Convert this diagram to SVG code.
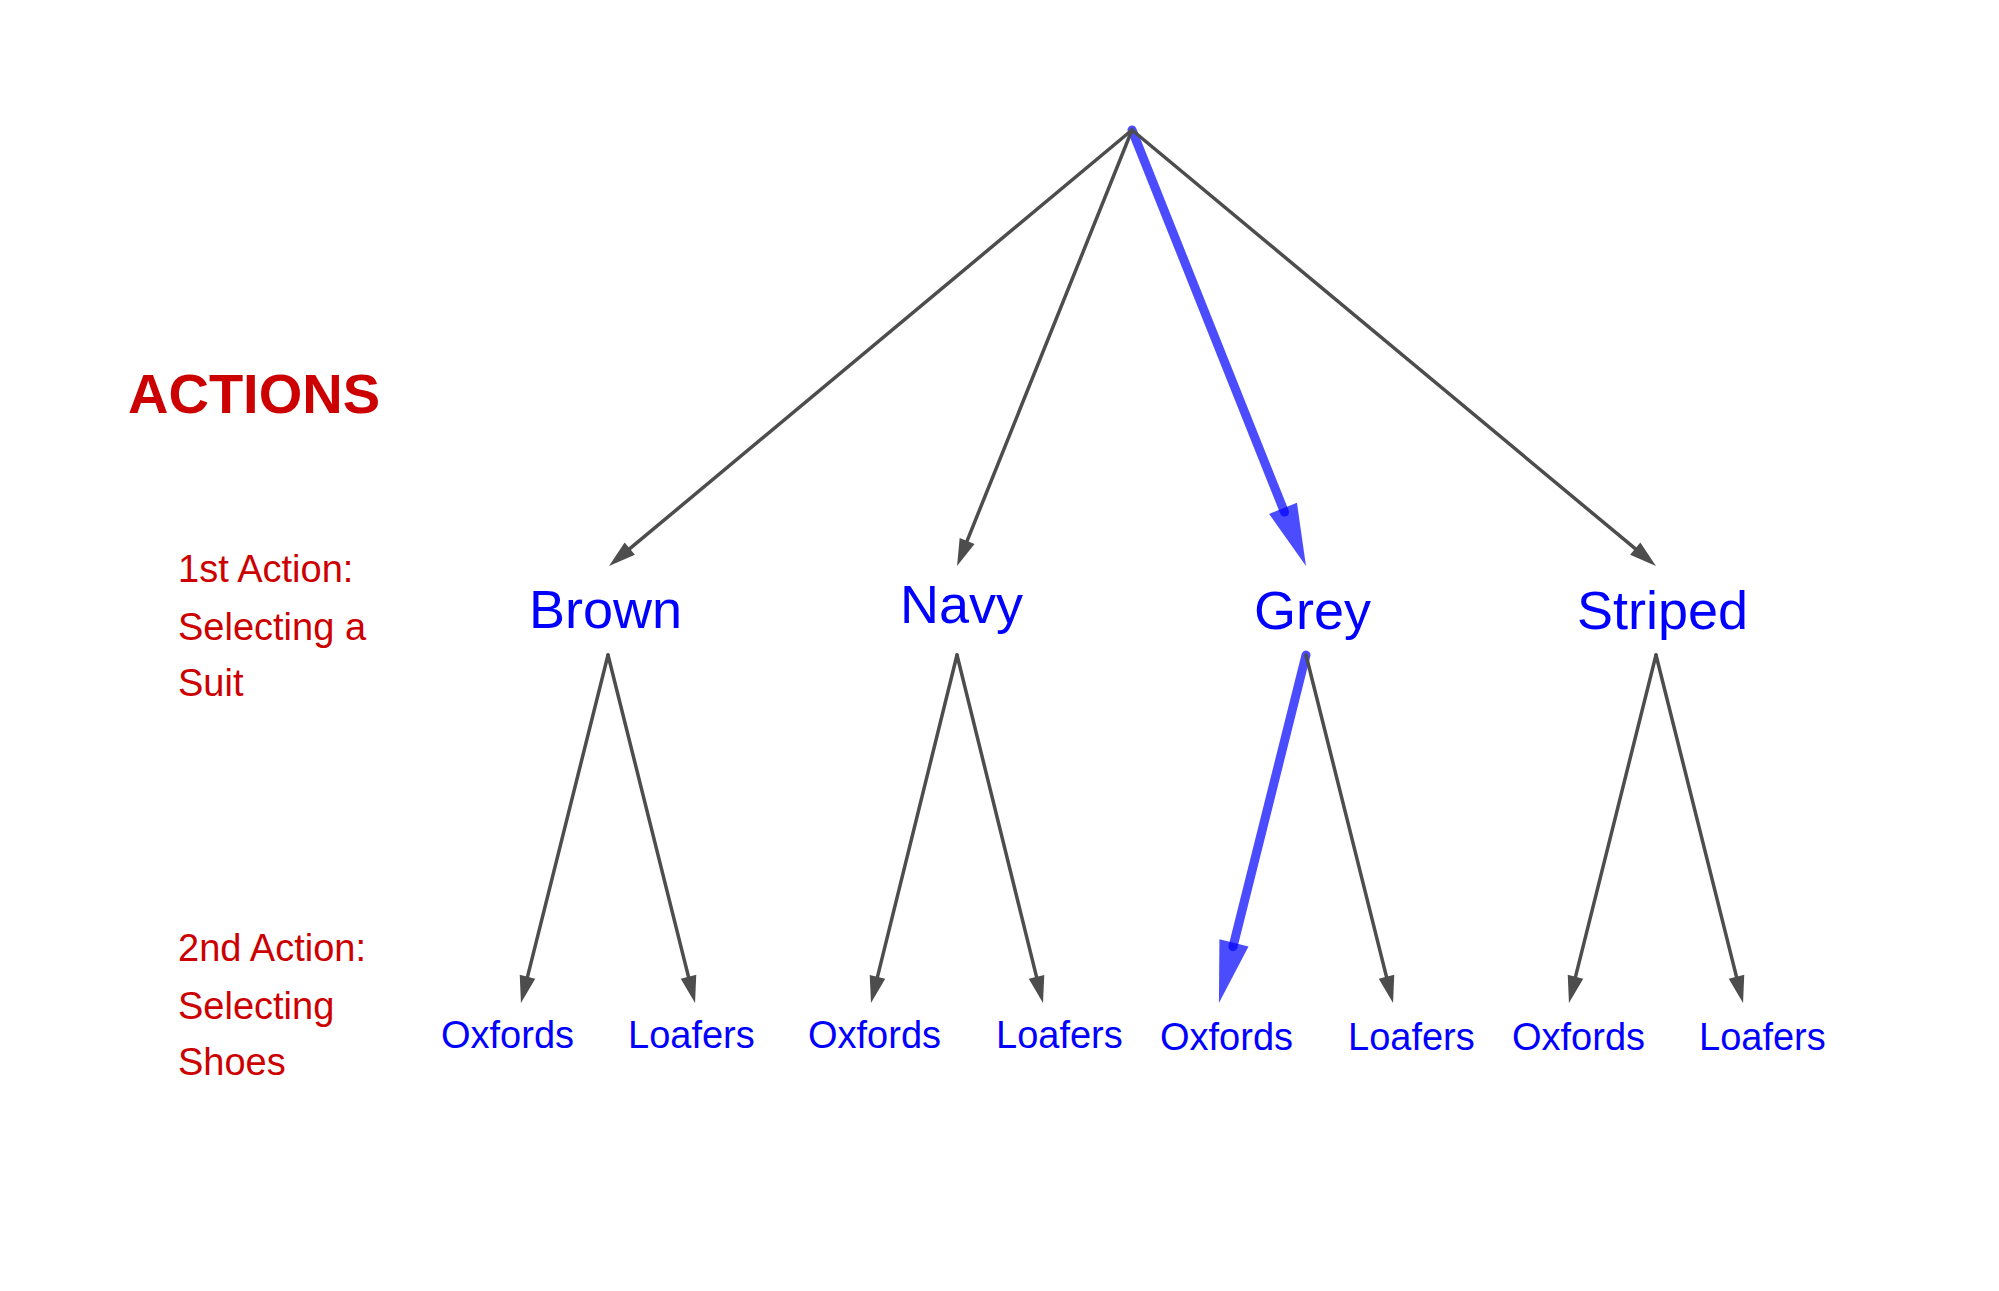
<svg xmlns="http://www.w3.org/2000/svg" width="1999" height="1291" viewBox="0 0 1999 1291">
<style>
text{font-family:"Liberation Sans",Arial,Helvetica,sans-serif}
.lbl{fill:#cc0000;font-size:38px}
.title{fill:#cc0000;font-size:56px;font-weight:bold}
.suit{fill:#0000ff;font-size:54px}
.shoe{fill:#0000ff;font-size:38px}
.edge{stroke:#4d4d4d;stroke-width:3.5;stroke-linecap:round;fill:none;marker-end:url(#ah)}
.path{stroke:#0000ff;stroke-opacity:0.7;stroke-width:9;stroke-linecap:round;fill:none;marker-end:url(#bh)}
</style>
<defs>
<marker id="ah" markerUnits="userSpaceOnUse" markerWidth="27" markerHeight="16" refX="7" refY="8" orient="auto" overflow="visible">
<path d="M0,0 L27,8 L0,16 Z" fill="#4d4d4d"/>
</marker>
<marker id="bh" markerUnits="userSpaceOnUse" markerWidth="62" markerHeight="30" refX="4" refY="15" orient="auto" overflow="visible">
<path d="M0,0 L62,15 L0,30 Z" fill="#0000ff" fill-opacity="0.7"/>
</marker>
</defs>
<rect width="1999" height="1291" fill="#ffffff"/>
<g id="connectors">
<line class="path" x1="1132" y1="130" x2="1284.5" y2="512.1"/>
<line class="path" x1="1306" y1="655" x2="1233" y2="946.7"/>
<line class="edge" x1="1132" y1="130" x2="624.4" y2="553.2"/>
<line class="edge" x1="1132" y1="130" x2="964.5" y2="547.4"/>
<line class="edge" x1="1132" y1="130" x2="1640.6" y2="553.2"/>
<line class="edge" x1="608" y1="655" x2="525.8" y2="983.6"/>
<line class="edge" x1="608" y1="655" x2="690.2" y2="983.6"/>
<line class="edge" x1="957" y1="655" x2="875.8" y2="983.6"/>
<line class="edge" x1="957" y1="655" x2="1038.2" y2="983.6"/>
<line class="edge" x1="1306" y1="655" x2="1388.2" y2="983.6"/>
<line class="edge" x1="1656" y1="655" x2="1573.8" y2="983.6"/>
<line class="edge" x1="1656" y1="655" x2="1738.2" y2="983.6"/>
</g>
<g id="labels">
<text class="title" x="128" y="413">ACTIONS</text>
<text class="lbl" x="178" y="582">1st Action:</text>
<text class="lbl" x="178" y="640">Selecting a</text>
<text class="lbl" x="178" y="696">Suit</text>
<text class="lbl" x="178" y="961">2nd Action:</text>
<text class="lbl" x="178" y="1019">Selecting</text>
<text class="lbl" x="178" y="1075">Shoes</text>
</g>
<g id="node-brown"><text class="suit" x="529" y="628">Brown</text></g>
<g id="node-navy"><text class="suit" x="900" y="623">Navy</text></g>
<g id="node-grey"><text class="suit" x="1254" y="629">Grey</text></g>
<g id="node-striped"><text class="suit" x="1577" y="629">Striped</text></g>
<g id="node-brown-oxfords"><text class="shoe" x="441" y="1048">Oxfords</text></g>
<g id="node-brown-loafers"><text class="shoe" x="628" y="1048">Loafers</text></g>
<g id="node-navy-oxfords"><text class="shoe" x="808" y="1048">Oxfords</text></g>
<g id="node-navy-loafers"><text class="shoe" x="996" y="1048">Loafers</text></g>
<g id="node-grey-oxfords"><text class="shoe" x="1160" y="1050">Oxfords</text></g>
<g id="node-grey-loafers"><text class="shoe" x="1348" y="1050">Loafers</text></g>
<g id="node-striped-oxfords"><text class="shoe" x="1512" y="1050">Oxfords</text></g>
<g id="node-striped-loafers"><text class="shoe" x="1699" y="1050">Loafers</text></g>
</svg>
